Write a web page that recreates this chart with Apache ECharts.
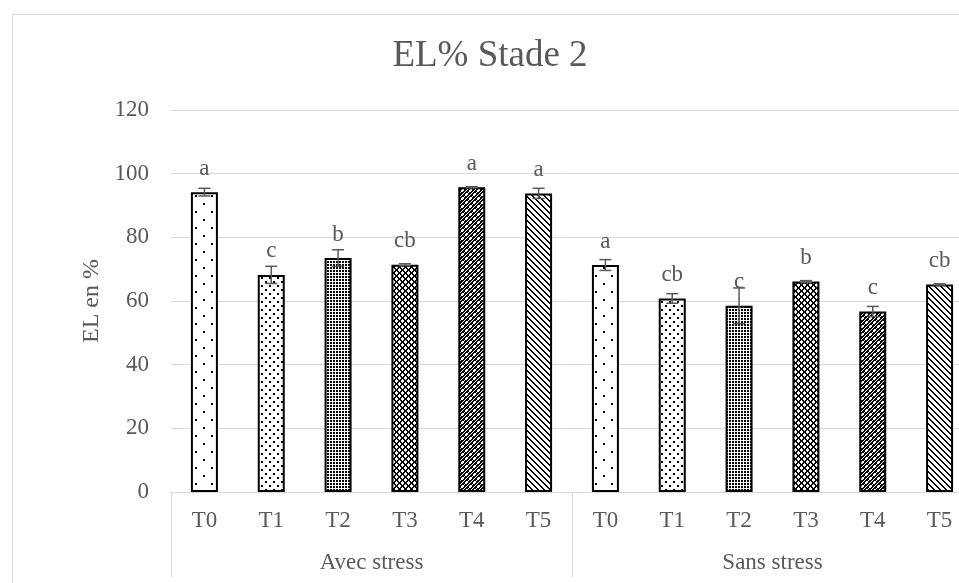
<!DOCTYPE html>
<html>
<head>
<meta charset="utf-8">
<script src="https://cdn.jsdelivr.net/npm/echarts@6/dist/echarts.min.js"></script>
<style>
  html, body { margin: 0; padding: 0; background: #fff; }
  #chart { width: 959px; height: 583px; }
</style>
</head>
<body>
<div id="chart"></div>
<script>
// data
const groups = ['Avec stress', 'Sans stress']
const treatments = ['T0', 'T1', 'T2', 'T3', 'T4', 'T5']
const avecValues = [94.2, 68.2, 73.5, 71.4, 95.7, 93.8]
const avecErrors = [1.2, 2.7, 2.6, 0.3, 0.2, 1.6]
const avecLetters = ['a', 'c', 'b', 'cb', 'a', 'a']
const sansValues = [71.3, 60.8, 58.5, 66.1, 56.7, 65.2]
const sansErrors = [1.7, 1.5, 5.6, 0.3, 1.6, 0.2]
const sansLetters = ['a', 'cb', 'c', 'b', 'c', 'cb']
const yTicks = { min: 0, max: 120, interval: 20 }

const textColor = '#595959'
const gridColor = '#d9d9d9'
const fontFamily = '"Liberation Serif", "DejaVu Serif", serif'

// small canvas tiles for the Excel-like fill patterns
function makePattern(w, h, draw) {
  const c = document.createElement('canvas')
  c.width = w
  c.height = h
  const ctx = c.getContext('2d')
  ctx.fillStyle = '#fff'
  ctx.fillRect(0, 0, w, h)
  ctx.fillStyle = '#000'
  draw(ctx)
  return { image: c, repeat: 'repeat' }
}

const patterns = [
  // T0 sparse dots
  makePattern(16, 16, ctx => {
    ctx.fillRect(3, 3, 2, 2)
    ctx.fillRect(11, 11, 2, 2)
  }),
  // T1 medium dots
  makePattern(8, 8, ctx => {
    ctx.fillRect(1, 1, 2, 2)
    ctx.fillRect(5, 5, 2, 2)
  }),
  // T2 dense dot grid
  makePattern(3, 3, ctx => {
    ctx.fillRect(0, 0, 2, 2)
  }),
  // T3 lattice
  makePattern(6, 6, ctx => {
    for (let i = 0; i < 6; i++) {
      ctx.fillRect(i, i, 1, 1)
      ctx.fillRect((i + 1) % 6, i, 1, 1)
      ctx.fillRect(5 - i, i, 1, 1)
      ctx.fillRect((6 - i) % 6, i, 1, 1)
    }
  }),
  // T4 dark checker with white crosses
  makePattern(8, 8, ctx => {
    ctx.fillRect(0, 0, 8, 8)
    ctx.fillStyle = '#fff'
    for (let y = 0; y < 8; y++) {
      for (let x = 0; x < 8; x++) {
        if ((x + y) % 4 === 0) ctx.fillRect(x, y, 1, 1)
      }
    }
    ;[[2, 2], [6, 6]].forEach(([cx, cy]) => {
      ctx.fillRect(cx - 1, cy, 3, 1)
      ctx.fillRect(cx, cy - 1, 1, 3)
    })
  }),
  // T5 diagonal stripes
  makePattern(6, 6, ctx => {
    for (let i = 0; i < 6; i++) {
      ctx.fillRect(i, i, 1, 1)
      ctx.fillRect((i + 1) % 6, i, 1, 1)
    }
  })
]

const categories = []
groups.forEach(g => treatments.forEach(t => categories.push(g + '|' + t)))
const values = avecValues.concat(sansValues)
const errors = avecErrors.concat(sansErrors)
const letters = avecLetters.concat(sansLetters)

const barData = values.map((v, i) => ({
  value: v,
  itemStyle: { color: patterns[i % treatments.length] }
}))
const errData = values.map((v, i) => [i, v, errors[i]])

const chart = echarts.init(document.getElementById('chart'))

const option = {
  backgroundColor: '#fff',
  animation: false,
  title: {
    text: 'EL% Stade 2',
    left: 490,
    top: 38,
    padding: 0,
    textAlign: 'center',
    textStyle: { color: textColor, fontFamily, fontSize: 37, fontWeight: 'normal' }
  },
  graphic: [{
    type: 'rect',
    shape: { x: 12.5, y: 14.5, width: 1100, height: 1100 },
    style: { fill: 'none', stroke: gridColor, lineWidth: 1 },
    silent: true
  }],
  // the plot runs past the right edge of the picture, as in the cropped original
  grid: { left: 171, width: 802, top: 110, height: 382, outerBoundsMode: 'none', containLabel: false },
  xAxis: [{
    type: 'category',
    data: categories,
    axisLine: { lineStyle: { color: gridColor, width: 1 } },
    axisTick: { show: false },
    axisLabel: {
      interval: 0,
      margin: 17,
      color: textColor,
      fontFamily,
      fontSize: 23,
      formatter: v => v.split('|')[1]
    }
  }, {
    type: 'category',
    data: groups,
    position: 'bottom',
    axisLine: { show: false },
    axisTick: { show: true, length: 85, interval: 0, lineStyle: { color: gridColor, width: 1 } },
    axisLabel: { interval: 0, margin: 59, color: textColor, fontFamily, fontSize: 23 }
  }],
  yAxis: {
    type: 'value',
    min: yTicks.min,
    max: yTicks.max,
    interval: yTicks.interval,
    name: 'EL en %',
    nameLocation: 'middle',
    nameGap: 66,
    nameTextStyle: { color: textColor, fontFamily, fontSize: 24 },
    axisLine: { show: false },
    axisTick: { show: false },
    axisLabel: { margin: 22, color: textColor, fontFamily, fontSize: 23 },
    splitLine: { lineStyle: { color: gridColor, width: 1 } }
  },
  series: [{
    type: 'bar',
    xAxisIndex: 0,
    barWidth: 27,
    data: barData,
    itemStyle: { borderColor: '#000', borderWidth: 2 },
    label: {
      show: true,
      position: 'top',
      distance: 12,
      color: textColor,
      fontFamily,
      fontSize: 23,
      formatter: p => letters[p.dataIndex]
    }
  }, {
    type: 'custom',
    xAxisIndex: 0,
    z: 5,
    data: errData,
    encode: { x: 0, y: 1 },
    renderItem: (params, api) => {
      const idx = api.value(0)
      const v = api.value(1)
      const e = api.value(2)
      const hi = api.coord([idx, v + e])
      const lo = api.coord([idx, v - e])
      const cap = 6
      const style = { stroke: textColor, lineWidth: 1.5 }
      return {
        type: 'group',
        children: [
          { type: 'line', shape: { x1: hi[0], y1: hi[1], x2: lo[0], y2: lo[1] }, style },
          { type: 'line', shape: { x1: hi[0] - cap, y1: hi[1], x2: hi[0] + cap, y2: hi[1] }, style },
          { type: 'line', shape: { x1: lo[0] - cap, y1: lo[1], x2: lo[0] + cap, y2: lo[1] }, style }
        ]
      }
    }
  }]
}

chart.setOption(option)
</script>
</body>
</html>
